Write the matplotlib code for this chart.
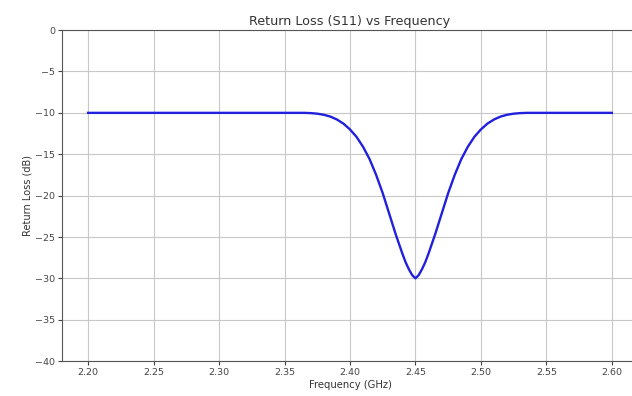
import matplotlib
matplotlib.use("Agg")
import matplotlib.pyplot as plt

# frequency (GHz) and S11 (dB)
freq = [2.20, 2.30, 2.36, 2.365, 2.37, 2.375, 2.38, 2.385, 2.39, 2.395, 2.40, 2.405,
        2.41, 2.415, 2.42, 2.425, 2.43, 2.435, 2.44, 2.4425, 2.445, 2.4475, 2.45,
        2.4525, 2.455, 2.4575, 2.46, 2.465, 2.47, 2.475, 2.48, 2.485, 2.49, 2.495,
        2.50, 2.505, 2.51, 2.515, 2.52, 2.525, 2.53, 2.535, 2.54, 2.60]
s11 = [-10.0, -10.0, -10.0, -10.0, -10.03, -10.1, -10.23, -10.45, -10.8, -11.3, -12.0,
       -12.9, -14.1, -15.6, -17.5, -19.7, -22.2, -24.7, -27.0, -28.05, -28.9, -29.6, -30.0,
       -29.6, -28.9, -28.05, -27.0, -24.7, -22.2, -19.7, -17.5, -15.6, -14.1, -12.9,
       -12.0, -11.3, -10.8, -10.45, -10.23, -10.1, -10.03, -10.0, -10.0, -10.0]

fig = plt.figure(figsize=(6.32, 3.96), dpi=100)
ax = fig.add_axes([0.098, 0.088, 0.9115, 0.836])
ax.plot(freq, s11, color="#2020dd", lw=1.7)
ax.set_xlim(2.18, 2.62)
ax.set_ylim(-40, 0)
ax.set_xticks([2.20, 2.25, 2.30, 2.35, 2.40, 2.45, 2.50, 2.55, 2.60])
ax.set_title("Return Loss (S11) vs Frequency", fontsize=9.2, pad=4, color="#333333")
ax.set_xlabel("Frequency (GHz)", fontsize=7.2, labelpad=2, color="#333333")
ax.set_ylabel("Return Loss (dB)", fontsize=7, labelpad=2, color="#333333")
ax.tick_params(labelsize=6.8, length=3, pad=2, colors="#444444")
ax.spines["right"].set_visible(False)
for s in ["left", "top", "bottom"]:
    ax.spines[s].set_color("#555555")
ax.grid(True, color="#c8c8c8", lw=0.8)
fig.savefig("out.png", dpi=100)
